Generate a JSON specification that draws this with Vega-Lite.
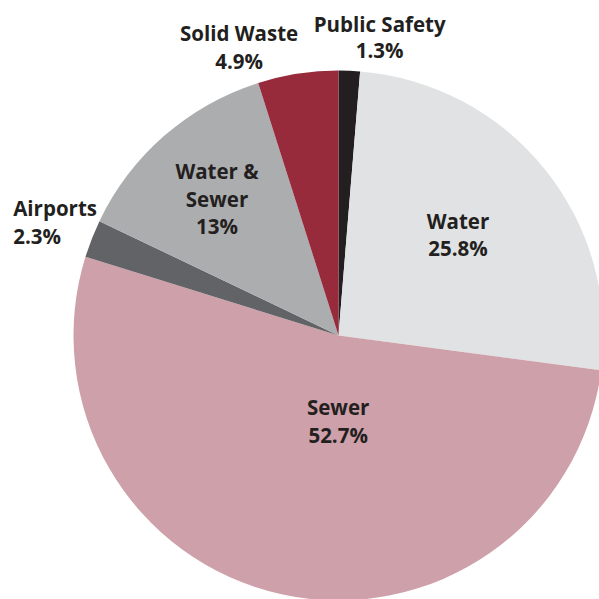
{
  "$schema": "https://vega.github.io/schema/vega-lite/v6.json",
  "width": 599,
  "height": 599,
  "autosize": "none",
  "padding": {"left": 39, "top": 36, "right": -39, "bottom": -36},
  "background": "white",
  "view": {"stroke": null},
  "data": {
    "values": [
      {"category": "Public Safety", "value": 1.3, "label": "Public Safety\n1.3%"},
      {"category": "Water", "value": 25.8, "label": "Water\n25.8%"},
      {"category": "Sewer", "value": 52.7, "label": "Sewer\n52.7%"},
      {"category": "Airports", "value": 2.3, "label": "Airports\n2.3%"},
      {"category": "Water & Sewer", "value": 13, "label": "Water &\nSewer\n13%"},
      {"category": "Solid Waste", "value": 4.9, "label": "Solid Waste\n4.9%"}
    ]
  },
  "transform": [{"window": [{"op": "row_number", "as": "idx"}]}],
  "encoding": {
    "theta": {"field": "value", "type": "quantitative", "stack": true},
    "order": {"field": "idx", "type": "quantitative"}
  },
  "layer": [
    {
      "mark": {"type": "arc", "outerRadius": 265, "stroke": null},
      "encoding": {
        "color": {
          "field": "category",
          "type": "nominal",
          "scale": {
            "domain": ["Public Safety", "Water", "Sewer", "Airports", "Water & Sewer", "Solid Waste"],
            "range": ["#231f20", "#e1e2e3", "#cea0a9", "#626366", "#acadaf", "#972b3c"]
          },
          "legend": null
        }
      }
    },
    {
      "mark": {"type": "text", "radius": 156, "dx": -2, "dy": -15, "font": "Open Sans", "fontWeight": "bold", "fontSize": 20.5, "lineHeight": 27, "lineBreak": "\n", "align": "center", "baseline": "middle", "color": "#231f20"},
      "encoding": {"text": {"condition": {"test": "datum.category === 'Water'", "field": "label"}, "value": ""}}
    },
    {
      "mark": {"type": "text", "radius": 90, "dx": 19, "dy": -14, "font": "Open Sans", "fontWeight": "bold", "fontSize": 20.5, "lineHeight": 28, "lineBreak": "\n", "align": "center", "baseline": "middle", "color": "#231f20"},
      "encoding": {"text": {"condition": {"test": "datum.category === 'Sewer'", "field": "label"}, "value": ""}}
    },
    {
      "mark": {"type": "text", "radius": 182, "dx": -2, "dy": -25, "font": "Open Sans", "fontWeight": "bold", "fontSize": 20.5, "lineHeight": 27.5, "lineBreak": "\n", "align": "center", "baseline": "middle", "color": "#231f20"},
      "encoding": {"text": {"condition": {"test": "datum.category === 'Water & Sewer'", "field": "label"}, "value": ""}}
    },
    {
      "mark": {"type": "text", "radius": 300, "dx": -46, "dy": -16, "font": "Open Sans", "fontWeight": "bold", "fontSize": 20.5, "lineHeight": 28, "lineBreak": "\n", "align": "left", "baseline": "middle", "color": "#231f20"},
      "encoding": {"text": {"condition": {"test": "datum.category === 'Airports'", "field": "label"}, "value": ""}}
    },
    {
      "mark": {"type": "text", "radius": 290, "dx": -55, "dy": -14, "font": "Open Sans", "fontWeight": "bold", "fontSize": 20.5, "lineHeight": 28, "lineBreak": "\n", "align": "center", "baseline": "middle", "color": "#231f20"},
      "encoding": {"text": {"condition": {"test": "datum.category === 'Solid Waste'", "field": "label"}, "value": ""}}
    },
    {
      "mark": {"type": "text", "radius": 297, "dx": 29, "dy": -13, "font": "Open Sans", "fontWeight": "bold", "fontSize": 20.5, "lineHeight": 26, "lineBreak": "\n", "align": "center", "baseline": "middle", "color": "#231f20"},
      "encoding": {"text": {"condition": {"test": "datum.category === 'Public Safety'", "field": "label"}, "value": ""}}
    }
  ]
}
